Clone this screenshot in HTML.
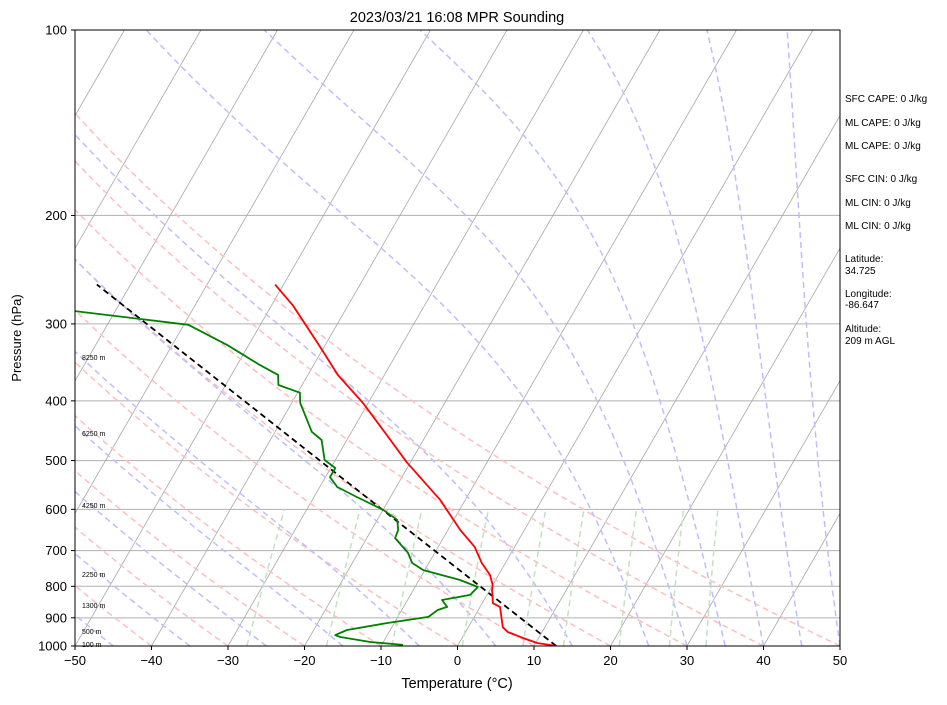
<!DOCTYPE html>
<html><head><meta charset="utf-8"><style>
body{margin:0;background:#fff;}
svg text{font-family:"Liberation Sans",sans-serif;}
</style></head><body>
<svg id="chart" width="947" height="700" xmlns="http://www.w3.org/2000/svg">
<defs><clipPath id="clip"><rect x="75" y="30" width="765" height="616"/></clipPath></defs>
<rect width="947" height="700" fill="#fff"/>
<text x="457" y="22" font-size="14.5" text-anchor="middle">2023/03/21 16:08 MPR Sounding</text>
<g id="bg" clip-path="url(#clip)"></g>
<g id="series" clip-path="url(#clip)"></g>
<g id="hlabels"></g>
<rect x="75" y="30" width="765" height="616" fill="none" stroke="#000" stroke-width="1"/>
<g id="axes"></g>
<text x="457" y="688" font-size="14.5" text-anchor="middle">Temperature (°C)</text>
<text transform="translate(21,338) rotate(-90)" font-size="13" text-anchor="middle">Pressure (hPa)</text>
<g font-size="10">
<text x="845" y="102">SFC CAPE: 0 J/kg</text>
<text x="845" y="126">ML CAPE: 0 J/kg</text>
<text x="845" y="149">ML CAPE: 0 J/kg</text>
<text x="845" y="182">SFC CIN: 0 J/kg</text>
<text x="845" y="206">ML CIN: 0 J/kg</text>
<text x="845" y="229">ML CIN: 0 J/kg</text>
<text x="845" y="262">Latitude:</text>
<text x="845" y="274">34.725</text>
<text x="845" y="297">Longitude:</text>
<text x="845" y="308">-86.647</text>
<text x="845" y="332">Altitude:</text>
<text x="845" y="344">209 m AGL</text>
</g>
</svg>
<script>
const tempP=[1000,989,971,949,932,864,852,811,796,767,733,691,648,579,503,451,403,363,327,280,259];
const tempT=[12.9,10.2,8.0,5.5,4.5,2.6,1.4,0.3,0.0,-1.1,-3.1,-5.2,-8.4,-13.3,-20.5,-25.5,-30.7,-36.1,-40.5,-47.2,-51.1];
const dewP=[996,985,967,960,942,918,897,874,864,842,826,802,781,753,733,706,668,648,624,601,573,552,532,514,499,463,449,403,388,377,363,350,325,301,286];
const dewT=[-7.2,-11.7,-16.0,-16.8,-15.65,-11.0,-6.0,-5.3,-4.3,-5.5,-2.2,-1.8,-4.7,-10.2,-12.2,-13.5,-16.3,-16.5,-17.4,-20.0,-24.4,-27.7,-29.4,-29.4,-31.4,-33.3,-35.2,-38.9,-39.7,-43.1,-43.9,-47.0,-52.7,-59.4,-75.3];
const parcelP=[1000,518,259];
const parcelT=[12.9,-29.7,-74.4];
const xTicks=[-50,-40,-30,-20,-10,0,10,20,30,40,50];
const yTicks=[100,200,300,400,500,600,700,800,900,1000];
const heightLabels=["8250 m","6250 m","4250 m","2250 m","1300 m","500 m","100 m"];
const heightY=[360,436,508,577,608,634,647];
const dryT0=[-40,-30,-20,-10,0,10,20,30,40,50];
const moistT0=[-45,-35,-25,-15,-5,5,15,25,30,35,40,45,50];
const mixW=[0.0004,0.001,0.002,0.004,0.007,0.01,0.016,0.024,0.032];

const NS="http://www.w3.org/2000/svg";
function yP(p){return 646-616*Math.log10(1000/p);}
function xT(T,p){return 75+(T+50)*7.65+(646-yP(p))*0.577;}
function mk(tag,attrs,parent){const e=document.createElementNS(NS,tag);for(const k in attrs)e.setAttribute(k,attrs[k]);parent.appendChild(e);return e;}
const bg=document.getElementById('bg'),ser=document.getElementById('series'),ax=document.getElementById('axes'),hl=document.getElementById('hlabels');

yTicks.forEach(p=>{const l=mk('line',{x1:75,x2:840,y1:yP(p),y2:yP(p),stroke:'#b0b0b0','stroke-width':1},bg);

});
for(let T=-150;T<=50;T+=10){const l=mk('line',{x1:xT(T,1000),y1:yP(1000),x2:xT(T,100),y2:yP(100),stroke:'#a8a8a8','stroke-width':0.8},bg);

}
const pres=[];for(let p=1000;p>=100;p-=10)pres.push(p);
dryT0.forEach(t0=>{const th=t0+273.15;const pts=pres.map(p=>xT(th*Math.pow(p/1000,0.2857)-273.15,p).toFixed(1)+','+yP(p).toFixed(1)).join(' ');
const l=mk('polyline',{points:pts,fill:'none',stroke:'rgb(255,190,190)','stroke-width':1.5,'stroke-dasharray':'6,4'},bg);

});
function es(Tc){return 6.112*Math.exp(17.67*Tc/(Tc+243.5));}
moistT0.forEach(t0=>{let T=t0+273.15;const pts=[];
for(let p=1000;p>=100;p-=2){if(p%10===0)pts.push(xT(T-273.15,p).toFixed(1)+','+yP(p).toFixed(1));
const e=es(T-273.15),rs=0.622*e/(p-e);const Rd=287,Lv=2.501e6,Cp=1005;
const dTdp=(Rd*T+Lv*rs)/(Cp+Lv*Lv*rs*0.622/(Rd*T*T))/p;T-=dTdp*2;}
const l=mk('polyline',{points:pts.join(' '),fill:'none',stroke:'rgb(190,190,255)','stroke-width':1.5,'stroke-dasharray':'6,4'},bg);

});
mixW.forEach(w=>{const pts=[];for(let p=1000;p>=600;p-=20){const e=w*p/(0.622+w),g=Math.log(e/6.112),Td=243.5*g/(17.67-g);pts.push(xT(Td,p).toFixed(1)+','+yP(p).toFixed(1));}
const l=mk('polyline',{points:pts.join(' '),fill:'none',stroke:'rgb(195,225,195)','stroke-width':1.5,'stroke-dasharray':'6,4'},bg);

});
function line(P,T,color,dash,name){const pts=P.map((p,i)=>xT(T[i],p).toFixed(1)+','+yP(p).toFixed(1)).join(' ');
const a={points:pts,fill:'none',stroke:color,'stroke-width':1.8,'stroke-linejoin':'round'};if(dash)a['stroke-dasharray']=dash;
const l=mk('polyline',a,ser);

}
line(parcelP,parcelT,'#000','6,4','parcel-profile');
line(tempP,tempT,'#ff0000',null,'temperature-line');
line(dewP,dewT,'#008000',null,'dewpoint-line');
heightLabels.forEach((t,i)=>{const e=mk('text',{x:82,y:heightY[i],'font-size':7},hl);e.textContent=t;

});
xTicks.forEach(T=>{const x=75+(T+50)*7.65;mk('line',{x1:x,x2:x,y1:646,y2:650,stroke:'#000'},ax);
const e=mk('text',{x:x,y:665,'font-size':13,'text-anchor':'middle'},ax);e.textContent=T<0?'\u2212'+(-T):T;

});
yTicks.forEach(p=>{const y=yP(p);mk('line',{x1:71,x2:75,y1:y,y2:y,stroke:'#000'},ax);
const e=mk('text',{x:67,y:y+4.5,'font-size':13,'text-anchor':'end'},ax);e.textContent=p;

});
</script>
</body></html>
